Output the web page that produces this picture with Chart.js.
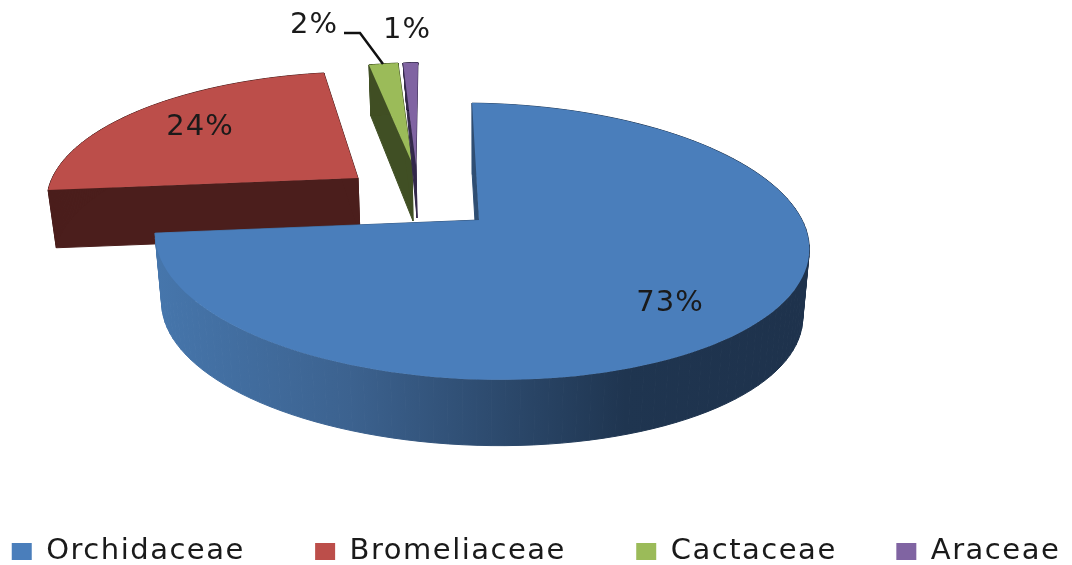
<!DOCTYPE html>
<html lang="en">
<head>
    <meta charset="UTF-8">
    <title>Plant families</title>
    <script src="https://cdn.jsdelivr.net/npm/chart.js"></script>
    <style>
        html, body { margin: 0; padding: 0; background: #fff; }
        #chart-container { width: 1072px; height: 565px; }
    </style>
</head>
<body>
    <div id="chart-container">
        <canvas id="pieChart"></canvas>
    </div>

    <script>
        const families = ["Orchidaceae", "Bromeliaceae", "Cactaceae", "Araceae"];
        const shares = [73, 24, 2, 1];
        const topColors = ["#4a7ebb", "#bc4e4a", "#9bbb59", "#8064a2"];
        const sideColors = [null, "#4b1e1c", "#404f24", "#33284a"];

        // perspective view of each exploded slice (Chart.js only does flat circles)
        const views = [
            { ax: 479, ay: 220, a: 135, b: 323, s: 8, r: 4, k: 0.155, m: 0.006, dx: 0, dy: 69, sx: 0.98, sy: 0.98, sh: 0 },
            { ax: 358, ay: 178, a: 122.5, b: 304, s: -18, r: 3.6, k: 0.155, m: 0, dx: 2, dy: 58, sx: 0.98, sy: 0.98, sh: 0 },
            { ax: 412, ay: 163, a: 116, b: 268, s: -0.7, r: -5, k: 0.155, m: 0, dx: 1, dy: 58, sx: 0.98, sy: 1.07, sh: 0 },
            { ax: 416, ay: 165, a: 118, b: 275, s: -2.3, r: 0, k: 0.155, m: 0, dx: 1, dy: 53, sx: 0.27, sy: 1.06, sh: 0.064 }
        ];
        const labelSpots = [[670, 303], [200, 127], [314, 25], [407, 30]];
        const legendGaps = [6, 6, 5, 0];
        const drawOrder = [1, 2, 3, 0];

        function project(v, angle) {
            const u = Math.cos(angle), w = Math.sin(angle);
            const d = 1 - v.k * w - v.m * u;
            return [v.ax + (v.b * u + v.s * w) / d, v.ay + (v.a * w + v.r * u) / d];
        }

        function lower(v, p) {
            return [
                v.ax + (p[0] - v.ax) * v.sx + (p[1] - v.ay) * v.sh + v.dx,
                v.ay + (p[1] - v.ay) * v.sy + v.dy
            ];
        }

        function fillPoly(ctx, pts, color, edge) {
            ctx.beginPath();
            pts.forEach((p, i) => i ? ctx.lineTo(p[0], p[1]) : ctx.moveTo(p[0], p[1]));
            ctx.closePath();
            ctx.fillStyle = color;
            ctx.fill();
            if (edge) {
                ctx.strokeStyle = color;
                ctx.lineWidth = 1;
                ctx.stroke();
            }
        }

        const pie3d = {
            id: "pie3d",
            // original text is stretched wide, legend measures with this too.
            // a canvas resize resets it, so set it again before layout and draw
            beforeLayout(chart) {
                chart.ctx.letterSpacing = "1.5px";
            },
            beforeDraw(chart) {
                chart.ctx.letterSpacing = "1.5px";
            },
            beforeDatasetDraw(chart) {
                const ctx = chart.ctx;
                const arcs = chart.getDatasetMeta(0).data;
                ctx.save();
                drawOrder.forEach(i => {
                    const arc = arcs[i].getProps(["startAngle", "endAngle"], true);
                    const v = views[i];
                    const outline = [[v.ax, v.ay]];
                    const steps = 120;
                    for (let n = 0; n <= steps; n++) {
                        outline.push(project(v, arc.startAngle + (arc.endAngle - arc.startAngle) * n / steps));
                    }

                    let side = sideColors[i];
                    if (!side) {
                        side = ctx.createLinearGradient(155, 0, 808, 0);
                        side.addColorStop(0, "#4676ac");
                        side.addColorStop(0.3, "#3c628f");
                        side.addColorStop(0.72, "#1f3550");
                        side.addColorStop(1, "#1e324c");
                    }
                    outline.forEach((p, n) => {
                        const q = outline[(n + 1) % outline.length];
                        fillPoly(ctx, [p, q, lower(v, q), lower(v, p)], side, true);
                    });
                    fillPoly(ctx, outline, topColors[i], false);
                });

                // leader line of the 2% label
                ctx.strokeStyle = "#111";
                ctx.lineWidth = 2.5;
                ctx.beginPath();
                ctx.moveTo(344, 33);
                ctx.lineTo(360, 33);
                ctx.lineTo(383, 64);
                ctx.stroke();

                ctx.fillStyle = "#1a1a1a";
                ctx.font = "29px 'DejaVu Sans'";
                ctx.letterSpacing = "1px";
                ctx.textAlign = "center";
                ctx.textBaseline = "middle";
                shares.forEach((val, i) => {
                    ctx.fillText(val + "%", labelSpots[i][0], labelSpots[i][1]);
                });
                ctx.restore();
                return false;
            }
        };

        new Chart(document.getElementById("pieChart").getContext("2d"), {
            type: "pie",
            data: {
                labels: families,
                datasets: [{ data: shares, backgroundColor: topColors, borderWidth: 0 }]
            },
            options: {
                responsive: true,
                maintainAspectRatio: false,
                animation: false,
                layout: { padding: { bottom: -11 } },
                plugins: {
                    tooltip: { enabled: false },
                    legend: {
                        position: "bottom",
                        labels: {
                            boxWidth: 20,
                            boxHeight: 17,
                            padding: 6,
                            color: "#1a1a1a",
                            font: { family: "'DejaVu Sans'", size: 29 },
                            // wider gaps than the row-wrap check allows, so pad the text
                            generateLabels(chart) {
                                const items = Chart.overrides.pie.plugins.legend.labels.generateLabels(chart);
                                items.forEach((item, i) => {
                                    item.text += "\u00a0".repeat(legendGaps[i]);
                                });
                                return items;
                            }
                        }
                    }
                }
            },
            plugins: [pie3d]
        });
    </script>
</body>
</html>
